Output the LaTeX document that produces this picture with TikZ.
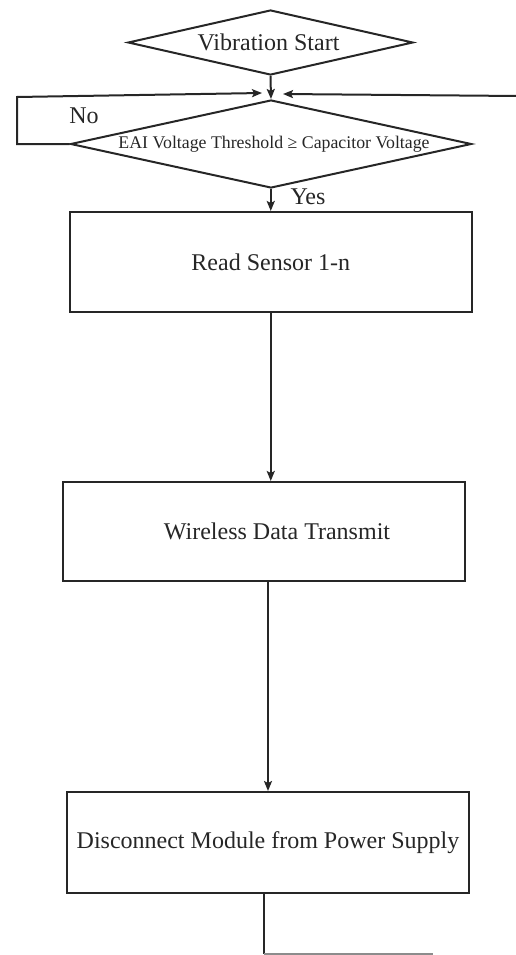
\documentclass[tikz,border=0pt]{standalone}
\usepackage{fontspec}
\setmainfont{Liberation Serif}
\usetikzlibrary{shapes.geometric,arrows.meta}
\tikzset{
  line/.style={draw=black!85, line width=2pt},
  arr/.style={line, -{Stealth[length=10pt,width=8pt,inset=2pt]}},
  dia/.style={shape=diamond, line, inner sep=0pt, text=black!85, font=\fontsize{24}{28}\selectfont},
  box/.style={shape=rectangle, line, inner sep=0pt, text=black!85, font=\fontsize{24}{28}\selectfont},
  lbl/.style={text=black!85, inner sep=0pt, font=\fontsize{24}{28}\selectfont},
}
\begin{document}
\begin{tikzpicture}[x=1pt,y=-1pt]
\useasboundingbox (0,0) rectangle (516,955);
\node[dia, minimum width=285pt, minimum height=65pt] (vs) at (270.5,42.5) {\makebox[0pt]{\hspace*{-4pt}Vibration Start}};
\node[dia, minimum width=401pt, minimum height=88pt] (dec) at (271,144) {\makebox[0pt]{\hspace*{6pt}\fontsize{17.8}{20}\selectfont EAI Voltage Threshold ≥ Capacitor Voltage}};
\node[box, minimum width=402.5pt, minimum height=100pt] (b1) at (270.75,262) {Read Sensor 1-n};
\node[box, minimum width=402pt, minimum height=99pt] (b2) at (264,531.5) {\makebox[0pt]{\hspace*{26pt}Wireless Data Transmit}};
\node[box, minimum width=402pt, minimum height=101pt] (b3) at (268,842.5) {Disconnect Module from Power Supply};
\node[lbl] (no) at (84,116) {No};
\node[lbl] (yes) at (308,197) {Yes};
\coordinate (l1) at (17,144);
\coordinate (l2) at (17,97);
\coordinate (ltip) at (262,93);
\coordinate (rin) at (518,96);
\coordinate (rtip) at (283,94);
\coordinate (e1) at (264,953.5);
\coordinate (e2) at (433,953.5);
\draw[arr] (vs.south) -- (dec.north);
\draw[arr] (dec.west) -- (l1) -- (l2) -- (ltip);
\draw[arr] (rin) -- (rtip);
\draw[arr] (dec.south -| b1.north) -- (b1.north);
\draw[arr] (b1.south) -- (b1.south |- b2.north);
\draw[arr] (b3.north |- b2.south) -- (b3.north);
\draw[line] (e1 |- b3.south) -- (e1);
\draw[draw=black!45, line width=2pt] (e1) -- (e2);
\end{tikzpicture}
\end{document}
